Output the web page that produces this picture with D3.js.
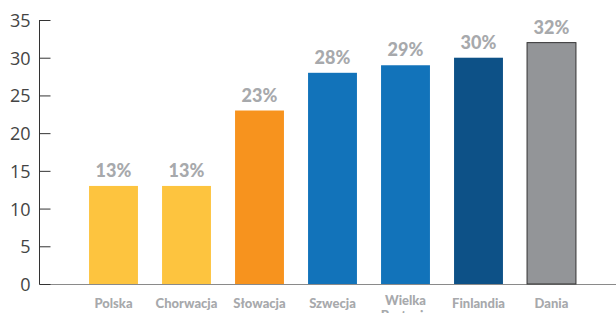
<!DOCTYPE html>
<html><head><meta charset="utf-8">
<script src="https://cdn.jsdelivr.net/npm/d3@7"></script>
<style>body{margin:0;background:#fff}</style>
</head><body><svg id="c" width="616" height="313"></svg>
<script>
const categories = [["Polska"],["Chorwacja"],["Słowacja"],["Szwecja"],["Wielka","Brytania"],["Finlandia"],["Dania"]];
const values = [13, 13, 23, 28, 29, 30, 32];
const colors = ["#FDC43F","#FDC43F","#F7931E","#1273BA","#1273BA","#0D5187","#939598"];
const yTicks = [0,5,10,15,20,25,30,35];

const svg = d3.select("#c");
const names = categories.map(c => c.join(" "));
const x = d3.scaleBand().domain(names).range([77, 588]).paddingInner(0.33).paddingOuter(0.165);
const y = d3.scaleLinear().domain([0, 35]).range([284, 20]);

// x axis baseline
svg.append("line").attr("x1", 39).attr("x2", 616).attr("y1", y(0)+0.5).attr("y2", y(0)+0.5)
  .attr("stroke", "#8a8a8a").attr("stroke-width", 1.2);

// y axis
const ya = svg.append("g").attr("transform", "translate(39.5,0)")
  .call(d3.axisRight(y).tickValues(yTicks).tickSize(11).tickFormat(d3.format("d")));
ya.select(".domain").attr("stroke", "#333").attr("d", `M0,${y(35)}V${y(0)}`);
ya.selectAll(".tick line").attr("stroke", "#333");
ya.selectAll(".tick text").attr("x", -9).attr("text-anchor", "end")
  .attr("font-family", "'Open Sans', sans-serif").attr("font-size", 18).attr("fill", "#444").attr("dy", "0.36em");

// bars
svg.selectAll("rect.bar").data(values).join("rect").attr("class","bar")
  .attr("x", (d,i) => x(names[i])).attr("width", x.bandwidth())
  .attr("y", d => y(d)).attr("height", d => y(0) - y(d))
  .attr("fill", (d,i) => colors[i])
  .attr("stroke", (d,i) => i === values.length-1 ? "#333" : "none").attr("stroke-width", 1);

// value labels
svg.selectAll("text.val").data(values).join("text").attr("class","val")
  .attr("x", (d,i) => x(names[i]) + x.bandwidth()/2).attr("y", d => y(d) - 9)
  .attr("text-anchor", "middle").attr("font-family", "Lato, sans-serif").attr("font-weight", "900")
  .attr("font-size", 18).attr("fill", "#A7A9AC").text(d => d + "%");

// category labels
const cl = svg.selectAll("text.cat").data(categories).join("text").attr("class","cat")
  .attr("x", (d,i) => x(names[i]) + x.bandwidth()/2)
  .attr("y", d => d.length > 1 ? 305 : 308)
  .attr("text-anchor", "middle").attr("font-family", "Lato, sans-serif").attr("font-weight", "900")
  .attr("font-size", 13).attr("fill", "#A7A9AC");
cl.each(function(d,i){
  const t = d3.select(this);
  d.forEach((s,j) => t.append("tspan").attr("x", x(names[i]) + x.bandwidth()/2).attr("dy", j ? 15 : 0).text(s));
});
</script></body></html>
